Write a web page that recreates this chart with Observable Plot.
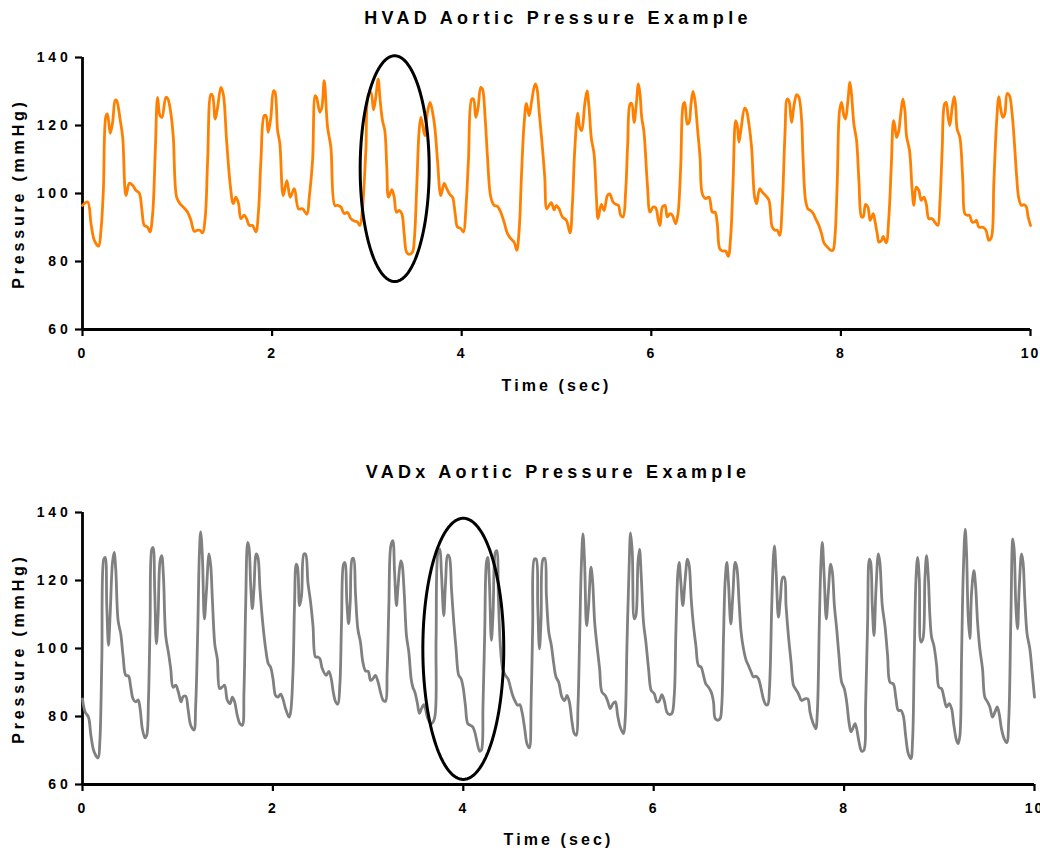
<!DOCTYPE html>
<html>
<head>
<meta charset="utf-8">
<script src="https://cdn.jsdelivr.net/npm/d3@7"></script>
<script src="https://cdn.jsdelivr.net/npm/@observablehq/plot@0.6"></script>
<style>
  html, body { margin: 0; padding: 0; background: #fff; }
  body { width: 1040px; height: 851px; overflow: hidden; font-family: "Liberation Sans", Arial, sans-serif; }
  .title { height: 36px; line-height: 36px; font-weight: bold; font-size: 18px; letter-spacing: 4.3px;
           text-align: center; padding-left: 76px; color: #000; white-space: nowrap; }
  #t2 { margin-top: 59px; }
  svg { display: block; }
</style>
</head>
<body>
<div class="title" id="t1">HVAD Aortic Pressure Example</div>
<div id="p1"></div>
<div class="title" id="t2">VADx Aortic Pressure Example</div>
<div id="p2"></div>
<script>
// ---------- data ----------
const xTicks = [0, 2, 4, 6, 8, 10];
const yTicks = [60, 80, 100, 120, 140];
const xLabel = "Time (sec)";
const yLabel = "Pressure (mmHg)";

const hvadTime = [0,0.054,0.090,0.125,0.170,0.195,0.220,0.248,0.262,0.293,0.318,0.346,0.360,0.399,0.424,0.459,0.494,0.529,0.564,0.599,0.627,0.652,0.687,0.712,0.740,0.768,0.792,0.817,0.838,0.880,0.901,0.933,0.958,0.993,1.028,1.063,1.109,1.144,1.179,1.214,1.239,1.267,1.295,1.320,1.355,1.372,1.400,1.425,1.460,1.485,1.520,1.559,1.590,1.618,1.646,1.671,1.706,1.731,1.759,1.794,1.829,1.857,1.882,1.917,1.935,1.959,1.987,2.015,2.030,2.058,2.082,2.117,2.156,2.191,2.234,2.279,2.321,2.367,2.392,2.427,2.455,2.469,2.504,2.525,2.550,
2.585,2.620,2.662,2.690,2.725,2.761,2.796,2.831,2.866,2.901,2.926,2.954,2.989,3.017,3.042,3.070,3.094,3.119,3.140,3.165,3.189,3.210,3.228,3.263,3.288,3.312,3.340,3.368,3.393,3.418,3.446,3.481,3.502,3.527,3.551,3.569,3.586,3.611,3.639,3.667,3.699,3.720,3.745,3.780,3.815,3.843,3.875,3.903,3.931,3.955,3.990,4.019,4.043,4.071,4.106,4.124,4.149,4.173,4.201,4.219,4.247,4.272,4.307,4.342,4.377,4.412,4.447,4.483,4.518,4.553,4.581,4.606,4.630,4.658,4.683,4.711,4.739,4.774,4.792,4.816,4.845,4.876,4.897,4.922,4.946,4.975,4.999,5.027,5.062,
5.104,5.143,5.168,5.192,5.224,5.245,5.266,5.298,5.322,5.343,5.368,5.396,5.421,5.438,5.473,5.502,5.537,5.561,5.596,5.625,5.653,5.677,5.702,5.730,5.751,5.776,5.793,5.818,5.842,5.864,5.881,5.899,5.923,5.958,5.987,6.018,6.046,6.074,6.092,6.117,6.145,6.169,6.197,6.222,6.257,6.282,6.310,6.338,6.352,6.380,6.398,6.419,6.440,6.461,6.486,6.514,6.538,6.573,6.609,6.644,6.672,6.696,6.721,6.749,6.784,6.812,6.837,6.862,6.890,6.907,6.925,6.949,6.985,7.002,7.030,7.058,7.090,7.111,7.143,7.171,7.206,7.241,7.276,7.304,7.329,7.354,7.382,7.410,7.434,7.452,7.480,7.505,7.533,7.557,7.586,
7.599,7.627,7.652,7.680,7.708,7.733,7.768,7.796,7.821,7.856,7.891,7.916,7.937,7.961,7.986,8.007,8.032,8.049,8.074,8.095,8.112,8.137,8.165,8.190,8.218,8.235,8.260,8.285,8.309,8.341,8.358,8.383,8.401,8.429,8.446,8.478,8.506,8.531,8.555,8.569,8.587,8.611,8.629,8.654,8.675,8.692,8.724,8.752,8.770,8.794,8.822,8.847,8.875,8.900,8.928,8.963,8.991,9.023,9.044,9.068,9.093,9.110,9.132,9.149,9.174,9.195,9.209,9.226,9.255,9.286,9.307,9.332,9.356,9.385,9.409,9.430,9.455,9.483,9.508,9.532,9.560,9.588,9.613,9.641,9.666,9.683,9.708,9.729,9.754,9.778,9.806,9.831,9.852,9.877,9.905,9.929,9.954,9.975,10.000];
const hvadPressure = [96.5,97.5,91.1,86.2,84.5,89.2,100.9,122.9,123.4,117.7,121,127.5,127.3,121.4,116.5,99.4,103,102.4,100.9,100.1,95,90.6,90.1,88.7,94,112.6,128.3,122.9,122.4,128.3,127.8,123.4,116.5,98.9,97,96,94.5,92.1,88.9,89.2,89.2,88.4,93.1,109.7,129.2,128.8,121.9,125.3,131.2,129.2,115.6,102.4,97,98.9,97,92.6,93.6,92.6,90.6,90.6,88.7,95,109.7,122.9,122.9,118,122.4,130.2,129.8,118.6,114.6,99.4,103.8,98.9,101.4,95.5,95.5,93.9,98.9,109.7,128.8,128.3,123.9,125.3,133.2,
119.5,113.6,96.5,96.5,96,94.1,94.4,92.6,91.9,91.6,90.6,96,112.6,129.2,129.7,124.6,128.3,133.6,127.3,121.4,118.5,107.7,98.9,101.1,98.9,94.5,95,94.1,88.2,82.8,82.1,82.8,87.2,102.9,118.5,122.4,120.4,117,123.9,126.8,122.9,118.5,109.7,99.4,103,101.4,99.7,98.9,94.1,90.2,89.7,88.7,95,109.7,127.8,127.8,122.4,125.3,131.2,130.7,122.4,110.7,98.9,96.5,96.2,94.5,91.6,88.2,86.7,85.7,83.3,89.2,104.9,120.4,126.5,122.9,127.3,132.2,131.2,124.4,115.6,104.8,95.5,96.5,97.3,95.2,96.5,95.5,93.1,
92.1,88.4,97,112.6,123.6,119.5,118.5,126.3,130.2,125.3,116.1,111.7,98.9,92.6,96.8,95,99.4,99.9,97.5,96.8,96.5,93.6,93.1,100.9,114.6,126.3,126.5,120.9,126.3,132.2,129.2,122.4,118,102.9,94.5,96,95.8,92.1,90.6,96,96.5,93.1,94.1,93.6,91.1,94.1,107.8,126.3,126.8,120.4,120.9,126.3,130,127.3,119.5,110.7,99.9,98.5,98.9,94.5,94.5,91.1,83.8,83.1,83.1,81.5,87.2,102.9,121.4,119.9,115.1,119.5,125.1,124.6,120.4,113.6,98.9,97,101.4,100.4,99.4,98,90.1,89.2,89.2,87.7,97,117.5,127.8,127.3,120.9,125.8,129.1,128.3,121.4,
111.7,98,95.5,95,94.1,92.6,90.6,88.2,85.5,84.3,83.3,83.3,87.2,102.9,124.4,126.8,122.9,121.9,127.3,132.7,129.2,120.4,115.6,103.8,93.1,93.1,96.8,96,92.1,94.1,92.1,88.2,85.7,86.2,87.4,85.5,93.1,107.8,121.4,119.9,116.5,118.5,122.9,127.8,124.4,117,112.6,100.9,96.5,101.9,100.9,98,98.9,97,92.6,92.6,91.6,90.6,97,112.6,126.3,126.8,122.4,120,125.3,128.5,126.3,119,116.5,103.8,94.1,93.6,93.6,91.6,91.6,92.1,90.1,90.1,89.9,89.1,86.2,87.2,102.9,120.4,128.5,125.3,122.4,123.4,129.4,128.8,123.4,114.6,105.8,98.5,96.5,96.7,96.2,93.1,90.6];

const vadxTime = [0,0.028,0.063,0.088,0.122,0.164,0.182,0.203,0.224,0.238,0.255,0.273,0.290,0.315,0.332,0.349,0.374,0.402,0.426,0.455,0.483,0.507,0.531,0.559,0.584,0.605,0.629,0.657,0.675,0.693,0.710,0.728,0.741,0.758,0.776,0.794,0.815,0.832,0.850,0.874,0.902,0.927,0.951,0.979,1.007,1.035,1.056,1.084,1.109,1.137,1.171,1.189,1.210,1.227,1.241,1.259,1.280,1.301,1.329,1.347,1.364,1.391,1.416,1.441,1.469,1.493,1.521,1.550,1.574,1.598,1.626,1.654,1.679,1.696,1.714,1.735,1.749,1.767,1.784,1.801,1.825,1.843,1.864,1.896,1.924,1.952,1.976,2.001,2.028,2.053,2.081,2.105,2.133,2.169,2.186,2.211,2.227,2.245,2.259,2.280,2.301,2.326,2.343,2.368,2.396,2.421,2.448,2.472,2.494,2.518,
2.560,2.588,2.613,2.634,2.659,2.682,2.703,2.721,2.742,2.756,2.777,2.795,2.812,2.833,2.847,2.867,2.892,2.920,2.945,2.973,3.001,3.026,3.050,3.077,3.105,3.130,3.158,3.183,3.200,3.218,3.239,3.260,3.278,3.298,3.315,3.343,3.357,3.379,3.403,3.428,3.452,3.470,3.491,3.515,3.539,3.560,3.585,3.602,3.627,3.662,3.697,3.714,3.735,3.753,3.770,3.795,3.812,3.837,3.855,3.876,3.900,3.924,3.952,3.977,3.998,4.022,4.047,4.075,4.100,4.121,4.144,4.172,4.190,4.207,4.225,4.243,4.257,4.274,4.295,4.313,4.337,4.351,4.369,4.389,4.414,4.442,4.470,4.495,4.519,4.548,4.571,4.592,4.617,4.645,4.669,4.694,4.712,4.729,4.747,4.765,4.782,4.800,4.817,4.838,4.856,4.873,4.898,4.925,4.950,4.974,5.002,5.036,5.064,
5.089,5.114,5.142,5.166,5.187,5.205,5.223,5.240,5.257,5.274,5.295,5.316,5.341,5.359,5.380,5.404,5.432,5.456,5.491,5.519,5.544,5.572,5.597,5.621,5.648,5.683,5.701,5.719,5.740,5.757,5.775,5.796,5.813,5.835,5.851,5.869,5.893,5.918,5.946,5.974,6.006,6.034,6.057,6.086,6.114,6.138,6.163,6.191,6.216,6.233,6.254,6.267,6.285,6.306,6.331,6.355,6.373,6.394,6.418,6.443,6.470,6.498,6.523,6.547,6.576,6.604,6.628,6.646,6.674,6.698,6.715,6.733,6.750,6.768,6.785,6.810,6.831,6.856,6.873,6.897,6.918,6.943,6.971,6.995,7.023,7.048,7.073,7.100,7.128,7.152,7.177,7.198,7.216,7.240,7.258,7.268,7.286,7.310,7.331,7.355,7.373,7.390,7.415,7.443,7.468,7.492,7.520,
7.554,7.589,7.618,7.642,7.670,7.702,7.719,7.740,7.757,7.771,7.789,7.813,7.834,7.859,7.877,7.898,7.922,7.946,7.974,8.002,8.027,8.051,8.072,8.097,8.115,8.132,8.157,8.184,8.208,8.226,8.247,8.265,8.279,8.296,8.314,8.335,8.360,8.376,8.401,8.429,8.457,8.482,8.517,8.545,8.569,8.597,8.621,8.646,8.674,8.702,8.720,8.737,8.755,8.772,8.790,8.807,8.828,8.849,8.866,8.884,8.901,8.919,8.943,8.972,8.996,9.024,9.048,9.076,9.104,9.129,9.153,9.181,9.199,9.217,9.234,9.252,9.272,9.286,9.303,9.321,9.339,9.363,9.381,9.402,9.426,9.454,9.478,9.506,9.531,9.559,9.584,9.608,9.629,9.653,9.681,9.709,9.730,9.751,9.772,9.786,9.804,9.822,9.839,9.864,9.880,9.898,9.922,9.951,9.975,10.000];
const vadxPressure = [85.2,81.3,79.8,74.5,69.6,67.8,72.5,97,126.3,126.8,112.6,100.9,109.7,125.3,128.3,123.4,108.2,104.3,97.9,92.1,91.9,88.6,85.2,84.3,84.9,82.3,76.3,73.7,74.5,85,107.7,129.2,129.7,117.5,101.4,109.7,125.8,127.3,121.4,103.8,98.9,94,88.6,89.2,87.2,84.3,85.8,86,82.1,77.4,76,83.3,104.8,127.3,134.3,127.3,108.7,116.5,127.8,124.4,114.6,100.9,97,88.2,88.7,89.2,84.8,83.8,85.7,84.3,80.3,77.9,77.4,87.2,112.6,131.2,129.7,118.5,111.7,117.5,127.8,126.8,117.5,106.7,99.9,95.5,94.5,91.1,86.2,85.7,86.6,85.2,82.3,79.8,81.3,93.1,112.6,124.8,123.9,112.6,115.6,127.8,127.8,119.4,113.6,106.7,97.5,97.5,97,94.1,
92.1,93.3,91.1,87.2,84.3,83.6,89.1,107.7,124.8,125.3,113.6,107.3,113.6,126.3,126.5,116.5,105.8,101.8,96,93.4,93.3,90.6,91.1,92.1,90.1,87.2,84.8,84.5,93.1,112.6,130.2,131.7,122.4,112.6,118.5,125.8,124.8,116.5,103.8,98.9,91.1,88.6,87.2,84.3,80.9,82.3,83.5,82.3,79.4,77.9,79.4,102.9,128.3,129.2,122.4,109.7,118.5,127.5,126.8,117.5,107.7,99.9,92.1,91.1,88.6,83.3,77.9,77.4,76.9,75.4,72.5,69.8,70.1,83.3,104.8,125.3,126.8,119.5,102.4,110.7,128.3,128.8,114.6,100.9,94,92.1,91.1,88.6,86.2,84.3,83.3,83.5,81.3,76.4,72,70.8,83.3,106.7,126.3,126.3,112.6,99.9,108.7,126.3,126.5,115.6,104.8,100.9,95.5,91.6,90.1,85.7,84.7,
86.2,84.3,78.4,75,74.5,83.3,104.8,124.4,133.7,125.3,106.7,112.6,123.9,119.5,107.7,100.9,94,87.2,86.2,84.3,82.3,83.8,84.3,80.4,76.9,75,79.4,100.9,122.4,134,128.3,108.7,109.7,125.3,129.2,121.4,107.7,101.9,94,87.7,86.7,84.3,84.5,86.4,84.3,81.3,80.6,80.9,86.2,104.8,122.4,125.3,119.5,112.6,120.5,126.3,124.4,114.6,106.7,100.9,95,94.5,92.1,89.6,88.6,87.2,84.3,79.4,78.9,79.4,83.3,102.9,119.5,125.3,119.5,107.2,115.6,125.3,123.9,113.6,104.8,99.9,96.5,95,93.1,91.6,91.9,91.1,88.2,85.2,83.5,83.5,88.2,112.6,127.3,130.2,122.4,109.2,114.6,120.9,120.9,112.6,103.8,96,89.2,88,86.7,
84.7,85.2,85.2,81.3,78.4,76.4,81.3,107.7,125.3,131.2,122.4,108.7,116.5,124.8,122.4,112.6,105.8,97.9,90.1,88.2,84.3,78.4,75.5,76.9,77.9,76.4,72.5,69.8,70.1,83.3,107.7,126.3,125.3,112.6,103.8,117.5,127.8,125.3,112.6,106.7,97.9,90.1,89.6,85.2,81.8,81.8,80.3,74.5,69.1,67.6,73.5,97.9,120.4,126.8,120.4,101.9,102.9,120.4,127.3,121.4,109.7,103.3,100.9,95,88.6,88.2,85.7,82.8,83.8,82.3,77.4,73,72,74.5,97.9,122.4,135.1,128.3,109.7,102.9,116.5,122.9,118.5,107.7,99.9,94,85.7,84.3,82.8,79.8,81.3,82.8,80.8,76.4,73.5,72.3,79.4,107.7,132.2,129.2,112.6,105.8,117.5,127.8,125.3,114.6,104.3,99.9,93.1,85.7];

// highlighted beat: ellipse centre and half-axes, in data units (time, mmHg)
const hvadEllipse = { cx: 3.293, cy: 107.3, rx: 0.364, ry: 33.2 };
const vadxEllipse = { cx: 4.0, cy: 99.9, rx: 0.425, ry: 38.4 };

// ---------- drawing ----------
function ellipsePath(e) {
  return d3.range(0, 361, 2).map(a => {
    const r = a * Math.PI / 180;
    return { t: e.cx + e.rx * Math.cos(r), p: e.cy + e.ry * Math.sin(r) };
  });
}

function panel(times, values, color, ell, opts) {
  const data = times.map((t, i) => ({ t, p: values[i] }));
  const chart = Plot.plot({
    width: 1040,
    height: opts.height,
    marginLeft: 82,
    marginRight: opts.marginRight,
    marginTop: opts.marginTop,
    marginBottom: opts.marginBottom,
    style: { fontFamily: "'Liberation Sans', Arial, sans-serif", fontWeight: "bold", fontSize: "14px", color: "#000", background: "#fff", overflow: "visible" },
    x: { domain: [0, 10] },
    y: { domain: [60, 140] },
    marks: [
      Plot.axisX({ ticks: xTicks, tickSize: 7, tickPadding: 12, strokeWidth: 2.2, label: null, tickFormat: d => String(d) }),
      Plot.axisY({ ticks: yTicks, tickSize: 7, tickPadding: 4, strokeWidth: 2.2, label: null, tickFormat: d => String(d) }),
      Plot.ruleX([0], { stroke: "#000", strokeWidth: 2.8 }),
      Plot.ruleY([60], { stroke: "#000", strokeWidth: 2.8 }),
      Plot.line(data, { x: "t", y: "p", stroke: color, strokeWidth: 2.8, curve: "catmull-rom" }),
      Plot.line(ellipsePath(ell), { x: "t", y: "p", stroke: "#000", strokeWidth: 3, curve: "linear" }),
      Plot.text([xLabel], { frameAnchor: "bottom", lineAnchor: "middle", textAnchor: "middle", dy: opts.xLabelDy, fontSize: 16, fontWeight: "bold" }),
      Plot.text([yLabel], { frameAnchor: "left", lineAnchor: "middle", textAnchor: "middle", rotate: -90, dx: -64, fontSize: 16, fontWeight: "bold" })
    ]
  });
  const svg = d3.select(chart);
  svg.selectAll("text").each(function () {
    const s = this.textContent;
    const ls = s === yLabel ? "3.8px" : s === xLabel ? "3.1px" : "3.8px";
    d3.select(this).attr("letter-spacing", ls);
  });
  svg.selectAll("g[aria-label='x-axis tick label'] text").attr("letter-spacing", "2px");
  return chart;
}

document.getElementById("p1").appendChild(
  panel(hvadTime, hvadPressure, "#ff8000", hvadEllipse, { height: 359, marginTop: 21, marginBottom: 66, marginRight: 10, xLabelDy: 56 })
);
document.getElementById("p2").appendChild(
  panel(vadxTime, vadxPressure, "#808080", vadxEllipse, { height: 361, marginTop: 22, marginBottom: 67, marginRight: 6, xLabelDy: 55 })
);
</script>
</body>
</html>
